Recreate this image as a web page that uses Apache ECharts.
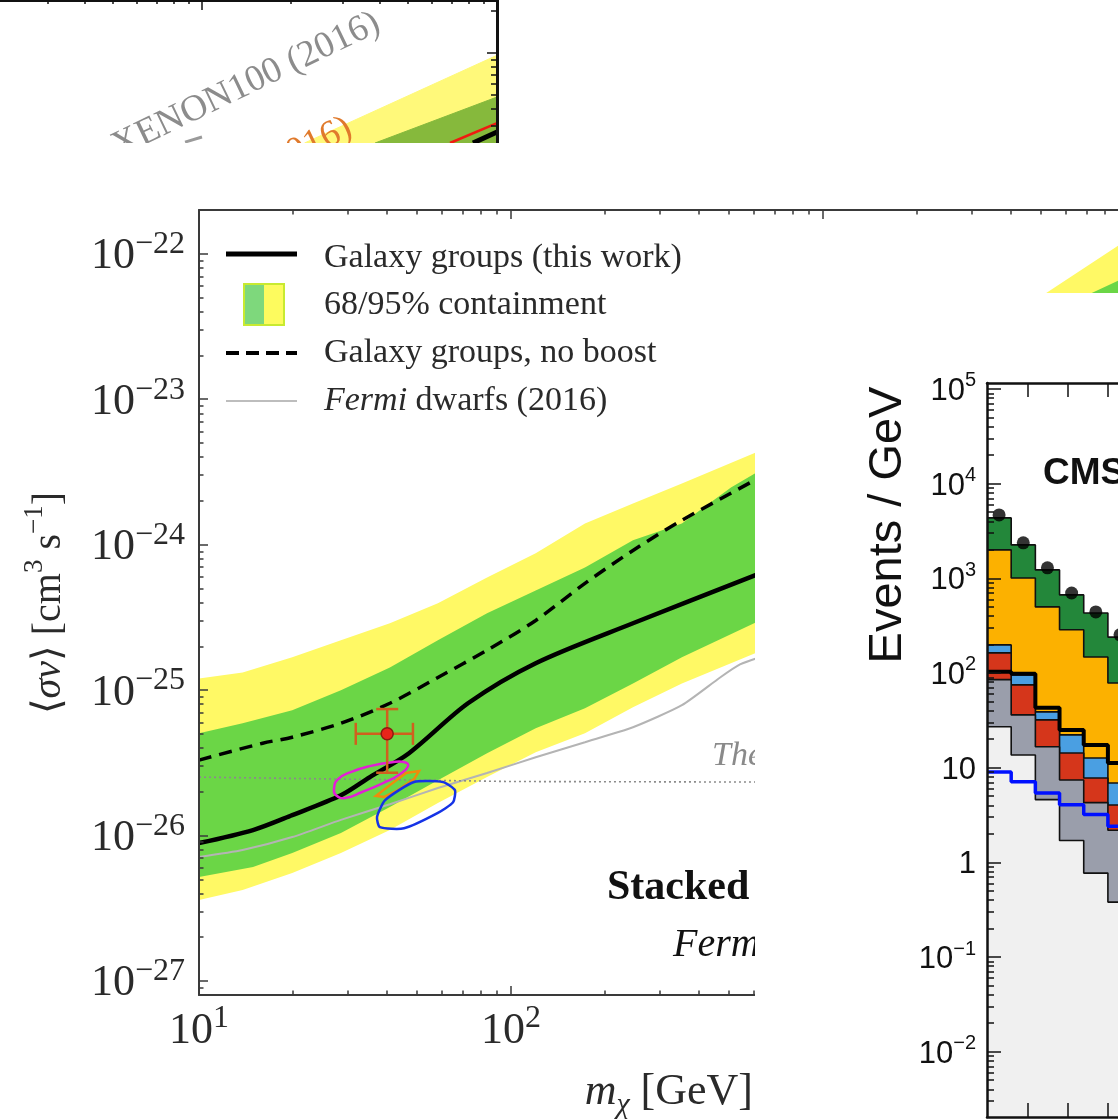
<!DOCTYPE html>
<html><head><meta charset="utf-8">
<script src="https://cdn.jsdelivr.net/npm/echarts@6/dist/echarts.min.js"></script>
<style>html,body{margin:0;padding:0;background:#fff}#c{width:1118px;height:1119px}</style>
</head><body><div id="c"></div>
<script>
// ================= DATA =================
// --- Main panel: annihilation cross-section limits vs DM mass ---
const mainXDecades = [1, 2, 3];                 // log10(m / GeV)
const mainXLabelDecades = [1, 2];
const mainYDecades = [-27, -26, -25, -24, -23, -22];
const minorK = [2, 3, 4, 5, 6, 7, 8, 9];

const ggMass = [10, 14.9, 19.9, 28.5, 35.3, 47.1, 72.8, 120, 246, 628];
const ggSigmaV = [8.87e-27, 1.09e-26, 1.38e-26, 1.89e-26, 2.52e-26, 3.68e-26, 8.11e-26, 1.53e-25, 2.88e-25, 6.34e-25];

const nbMass = [10, 16, 19.9, 28.5, 40.9, 58.3, 83.8, 120, 172.6, 246, 353, 628];
const nbSigmaV = [3.30e-26, 4.31e-26, 4.74e-26, 5.91e-26, 8.11e-26, 1.22e-25, 1.88e-25, 3.01e-25, 5.42e-25, 9.12e-25, 1.47e-24, 2.90e-24];

const y95UpMass = [10, 13.8, 19.9, 28.5, 40.9, 58.3, 83.8, 120, 172.6, 246, 353, 628, 5150, 8830];
const y95UpSv = [1.20e-25, 1.32e-25, 1.68e-25, 2.20e-25, 2.88e-25, 3.95e-25, 5.95e-25, 8.71e-25, 1.40e-24, 1.92e-24, 2.63e-24, 4.43e-24, 5.31e-23, 1.135e-22];
const y95LoMass = [10, 13.8, 19.9, 28.5, 40.9, 58.3, 83.8, 120, 172.6, 246, 353, 628, 8830];
const y95LoSv = [3.60e-27, 4.21e-27, 5.52e-27, 7.57e-27, 1.09e-26, 1.67e-26, 2.52e-26, 3.74e-26, 5.05e-26, 7.62e-26, 1.11e-25, 1.85e-25, 2.6e-24];
const g68UpMass = [10, 13.8, 19.9, 28.5, 40.9, 58.3, 83.8, 120, 172.6, 246, 353, 507, 628, 7180, 8830];
const g68UpSv = [5.05e-26, 5.91e-26, 7.26e-26, 9.97e-26, 1.43e-25, 2.20e-25, 3.37e-25, 4.84e-25, 6.97e-25, 1.07e-24, 1.40e-24, 2.47e-24, 3.24e-24, 5.31e-23, 6.53e-23];
const g68LoMass = [10, 14.9, 19.9, 28.5, 40.9, 58.3, 83.8, 120, 172.6, 246, 353, 628, 8830];
const g68LoSv = [5.18e-27, 6.07e-27, 7.57e-27, 1.04e-26, 1.57e-26, 2.40e-26, 3.68e-26, 5.47e-26, 7.50e-26, 1.11e-25, 1.68e-25, 3.01e-25, 5.5e-24];

const fermiMass = [10, 13.8, 19.9, 28.5, 40.9, 58.3, 83.8, 120, 172.6, 246, 353, 468, 542, 628];
const fermiSv = [7.11e-27, 7.94e-27, 9.75e-27, 1.28e-26, 1.64e-26, 2.12e-26, 2.69e-26, 3.45e-26, 4.38e-26, 5.55e-26, 7.87e-26, 1.22e-25, 1.50e-25, 1.68e-25];

const relicMass = [10, 40, 100, 628];
const relicSv = [2.52e-26, 2.42e-26, 2.35e-26, 2.33e-26];

const gceMass = [31.8, 40.1, 48.5];          // low, centre, high
const gceSv = [2.7e-26, 5.0e-26, 7.4e-26];    // low, centre, high

const magentaM = [27.1, 27.9, 30.5, 35.3, 41.6, 45.7, 46.8, 44.1, 38.9, 33.3, 29.4, 27.5];
const magentaSv = [2.12e-26, 2.44e-26, 2.72e-26, 3.00e-26, 3.19e-26, 3.19e-26, 3.00e-26, 2.64e-26, 2.29e-26, 1.99e-26, 1.81e-26, 1.89e-26];
const orangeM = [36.9, 40.9, 46.1, 50.7, 48.9, 43.4, 39.2];
const orangeSv = [1.87e-26, 2.22e-26, 2.69e-26, 2.77e-26, 2.44e-26, 2.05e-26, 1.84e-26];
const blueM = [37.2, 39.5, 48.9, 60.5, 66.1, 65.2, 58.3, 45.4, 38.0];
const blueSv = [1.34e-26, 1.75e-26, 2.33e-26, 2.33e-26, 2.05e-26, 1.69e-26, 1.43e-26, 1.12e-26, 1.14e-26];

// --- CMS panel (events / GeV, per bin) ---
const cmsBinLow = [200, 230, 260, 290, 320, 350];
const cmsBinWidth = 30;
const cmsXTicks = [250, 300, 350, 400, 450, 500, 550, 600, 650, 700, 750];
const cmsYDecades = [-2, -1, 0, 1, 2, 3, 4, 5];
const cmsLightGrey = [27, 13.6, 4.6, 1.7, 0.77, 0.38];
const cmsGrey = [58, 22.5, 12.0, 5.7, 3.5, 1.8];
const cmsRed = [78, 38.7, 15.4, 6.9, 3.5, 1.85];
const cmsBlue = [35, 20.7, 6.8, 7.9, 4.9, 2.85];
const cmsOrange = [1800, 913, 460, 264, 135, 71.6];
const cmsGreen = [2350, 1245, 728, 382, 283, 161];
const cmsData = [4670, 2370, 1290, 700, 442, 253];
const cmsSignalBlack = [103, 98, 43, 25, 17.4, 11.2];
const cmsSignalBlue = [9.0, 7.1, 5.4, 4.05, 3.2, 2.4];

// --- Top-left fragment (direct detection panel) ---
const fragXDecades = [2];
const fragYDecades = [-45];
const fragYellowM = [222.6, 1000];
const fragYellowY = [2.275e-46, 9.64e-46];
const fragGreenM = [385.9, 1000];
const fragGreenY = [2.275e-46, 4.85e-46];
const fragRedM = [692.9, 1000];
const fragRedY = [2.275e-46, 3.16e-46];
const fragBlackM = [829, 1000];
const fragBlackY = [2.275e-46, 2.73e-46];
const fragGreyM = [87.6, 100];
const fragGreyY = [2.31e-46, 2.51e-46];

// ================= HELPERS =================
const lg = Math.log10;
const serif = '"Liberation Serif","DejaVu Serif",serif';
const sans = '"Liberation Sans",Arial,sans-serif';
const pairs = (ms, vs) => ms.map((m, i) => [lg(m), lg(vs[i])]);
const minors = (decs, lo, hi) => decs.flatMap(n => minorK.map(k => n + lg(k))).filter(v => v > lo + 1e-6 && v < hi - 1e-6);
const sup = v => (v < 0 ? '\u2212' + (-v) : '' + v);

const MX = [1, 4], MY = [lg(8e-28), lg(2e-22)];
const CX = [200, 800], CY = [-2.69, 5.063];
const FX = [lg(20.67), 3], FY = [-45.643, -44.621];

const mainRich = {
  b: {fontFamily: serif, fontSize: 44, color: '#2a2a2a', lineHeight: 50, verticalAlign: 'bottom'},
  s: {fontFamily: serif, fontSize: 32, color: '#2a2a2a', lineHeight: 32, verticalAlign: 'top'}
};
const cmsRich = {
  b: {fontFamily: sans, fontSize: 31, color: '#111', lineHeight: 36, verticalAlign: 'bottom'},
  s: {fontFamily: sans, fontSize: 20, color: '#111', lineHeight: 22, verticalAlign: 'top'}
};

function tickAxis(base, vals, len, lineOn, lineW, color, z) {
  return Object.assign({
    type: 'value', splitLine: {show: false}, z: z || 0,
    axisLine: {show: lineOn, onZero: false, lineStyle: {color: color, width: lineW}},
    axisTick: {show: true, inside: true, length: len, customValues: vals, lineStyle: {color: color, width: 1.5}},
    axisLabel: {show: false}
  }, base);
}

function polygonSeries(ms, vs, stroke, smooth, z) {
  return {
    type: 'custom', xAxisIndex: 0, yAxisIndex: 0, z: z, silent: true,
    data: [[lg(ms[0]), lg(vs[0])]],
    renderItem: (p, api) => ({
      type: 'polygon',
      shape: {points: ms.map((m, i) => api.coord([lg(m), lg(vs[i])])), smooth: smooth},
      style: {fill: 'none', stroke: stroke, lineWidth: 2.5}
    })
  };
}
function bandSeries(upM, upV, loM, loV, color, z) {
  return {
    type: 'custom', xAxisIndex: 0, yAxisIndex: 0, z: z, silent: true,
    data: [[lg(upM[0]), lg(upV[0])]],
    renderItem: (p, api) => {
      const pts = upM.map((m, i) => api.coord([lg(m), lg(upV[i])]));
      for (let i = loM.length - 1; i >= 0; i--) pts.push(api.coord([lg(loM[i]), lg(loV[i])]));
      return {type: 'polygon', shape: {points: pts}, style: {fill: color}};
    }
  };
}

// cumulative stack for CMS
const cmsLayers = [
  {vals: cmsLightGrey, color: '#f0f0f0'},
  {vals: cmsGrey, color: '#9a9eab'},
  {vals: cmsRed, color: '#d5361b'},
  {vals: cmsBlue, color: '#4a9fe2'},
  {vals: cmsOrange, color: '#fcb100'},
  {vals: cmsGreen, color: '#23873a'}
];
let cum = cmsBinLow.map(() => 0);
const cmsCum = cmsLayers.map(l => { cum = cum.map((c, i) => c + l.vals[i]); return cum.slice(); });
function stepData(vals) {
  const d = cmsBinLow.map((x, i) => [x, lg(vals[i])]);
  d.push([cmsBinLow[cmsBinLow.length - 1] + cmsBinWidth, lg(vals[vals.length - 1])]);
  return d;
}

// ================= OPTION =================
const chart = echarts.init(document.getElementById('c'), null, {renderer: 'canvas'});

const grids = [
  {left: 199, top: 210, width: 936, height: 785, outerBoundsMode: 'none', containLabel: false},
  {left: 987, top: 383, width: 483.6, height: 734, outerBoundsMode: 'none', containLabel: false},
  {left: 0, top: 0, width: 497, height: 143, outerBoundsMode: 'none', containLabel: false}
];

const xAxes = [
  // main (0..3)
  tickAxis({gridIndex: 0, position: 'bottom', min: MX[0], max: MX[1],
    axisLabel: {show: true, customValues: mainXLabelDecades, margin: 8, formatter: v => '{b|10}{s|' + sup(v) + '}', rich: mainRich}},
    mainXDecades, 9, true, 2, '#3a3a3a', 8),
  tickAxis({gridIndex: 0, position: 'top', min: MX[0], max: MX[1]}, mainXDecades, 9, true, 2, '#3a3a3a', 8),
  tickAxis({gridIndex: 0, position: 'bottom', min: MX[0], max: MX[1]}, minors([1, 2, 3], MX[0], MX[1]), 4.5, false, 2, '#3a3a3a', 8),
  tickAxis({gridIndex: 0, position: 'top', min: MX[0], max: MX[1]}, minors([1, 2, 3], MX[0], MX[1]), 4.5, false, 2, '#3a3a3a', 8),
  // CMS (4,5)
  tickAxis({gridIndex: 1, position: 'bottom', min: CX[0], max: CX[1]}, cmsXTicks, 14, true, 2.5, '#111', 80),
  tickAxis({gridIndex: 1, position: 'top', min: CX[0], max: CX[1]}, cmsXTicks, 14, true, 2.5, '#111', 80),
  // fragment (6,7)
  tickAxis({gridIndex: 2, position: 'top', min: FX[0], max: FX[1]}, fragXDecades, 10, true, 3, '#111', 5),
  tickAxis({gridIndex: 2, position: 'top', min: FX[0], max: FX[1]}, minors([1, 2], FX[0], FX[1]), 4, false, 3, '#111', 5)
];
const yAxes = [
  // main (0,1)
  tickAxis({gridIndex: 0, position: 'left', min: MY[0], max: MY[1],
    axisLabel: {show: true, customValues: mainYDecades, margin: 14, formatter: v => '{b|10}{s|' + sup(v) + '}', rich: mainRich}},
    mainYDecades, 9, true, 2, '#3a3a3a', 8),
  tickAxis({gridIndex: 0, position: 'left', min: MY[0], max: MY[1]}, minors([-28, -27, -26, -25, -24, -23, -22], MY[0], MY[1]), 4.5, false, 2, '#3a3a3a', 8),
  // CMS (2,3)
  tickAxis({gridIndex: 1, position: 'left', min: CY[0], max: CY[1],
    axisLabel: {show: true, customValues: cmsYDecades, margin: 11,
      formatter: v => v === 0 ? '{b|1}' : (v === 1 ? '{b|10}' : '{b|10}{s|' + sup(v) + '}'), rich: cmsRich}},
    cmsYDecades, 14, true, 2.5, '#111', 80),
  tickAxis({gridIndex: 1, position: 'left', min: CY[0], max: CY[1]}, minors([-3, -2, -1, 0, 1, 2, 3, 4, 5], CY[0], CY[1]), 7, false, 2.5, '#111', 80),
  // fragment (4,5)
  tickAxis({gridIndex: 2, position: 'right', min: FY[0], max: FY[1]}, fragYDecades, 10, true, 3, '#111', 5),
  tickAxis({gridIndex: 2, position: 'right', min: FY[0], max: FY[1]}, minors([-46, -45], FY[0], FY[1]), 6, false, 3, '#111', 5)
];

const series = [
  // ---- main ----
  bandSeries(y95UpMass, y95UpSv, y95LoMass, y95LoSv, '#fff965', 2),
  bandSeries(g68UpMass, g68UpSv, g68LoMass, g68LoSv, '#6bd646', 3),
  {type: 'line', xAxisIndex: 0, yAxisIndex: 0, z: 4, data: pairs(fermiMass, fermiSv), symbol: 'none', smooth: 0.2,
    lineStyle: {color: '#b4b4b4', width: 2}, silent: true},
  {type: 'line', xAxisIndex: 0, yAxisIndex: 0, z: 4, data: pairs(relicMass, relicSv), symbol: 'none',
    lineStyle: {color: '#8a8a8a', width: 1.6, type: [2, 3]}, silent: true},
  {type: 'line', xAxisIndex: 0, yAxisIndex: 0, z: 5, data: pairs(nbMass, nbSigmaV), symbol: 'none', smooth: 0.3,
    lineStyle: {color: '#000', width: 3.5, type: [13, 8]}, silent: true},
  {type: 'line', xAxisIndex: 0, yAxisIndex: 0, z: 5, data: pairs(ggMass, ggSigmaV), symbol: 'none', smooth: 0.3,
    lineStyle: {color: '#000', width: 4.5}, silent: true},
  polygonSeries(magentaM, magentaSv, '#e21fd6', 0.5, 6),
  polygonSeries(orangeM, orangeSv, '#ef8c0a', 0, 6),
  polygonSeries(blueM, blueSv, '#1533e6', 0.2, 6),
  {type: 'custom', xAxisIndex: 0, yAxisIndex: 0, z: 7, silent: true,
    data: [[lg(gceMass[1]), lg(gceSv[1])]],
    renderItem: (p, api) => {
      const c = api.coord([lg(gceMass[1]), lg(gceSv[1])]);
      const l = api.coord([lg(gceMass[0]), lg(gceSv[1])]);
      const r = api.coord([lg(gceMass[2]), lg(gceSv[1])]);
      const t = api.coord([lg(gceMass[1]), lg(gceSv[2])]);
      const b = api.coord([lg(gceMass[1]), lg(gceSv[0])]);
      const col = '#d0601e', h = 11, st = {stroke: col, lineWidth: 2.5};
      return {type: 'group', children: [
        {type: 'line', shape: {x1: l[0], y1: l[1], x2: r[0], y2: r[1]}, style: st},
        {type: 'line', shape: {x1: t[0], y1: t[1], x2: b[0], y2: b[1]}, style: st},
        {type: 'line', shape: {x1: l[0], y1: l[1] - h, x2: l[0], y2: l[1] + h}, style: st},
        {type: 'line', shape: {x1: r[0], y1: r[1] - h, x2: r[0], y2: r[1] + h}, style: st},
        {type: 'line', shape: {x1: t[0] - h, y1: t[1], x2: t[0] + h, y2: t[1]}, style: st},
        {type: 'line', shape: {x1: b[0] - h, y1: b[1], x2: b[0] + h, y2: b[1]}, style: st},
        {type: 'circle', shape: {cx: c[0], cy: c[1], r: 6}, style: {fill: '#e8241a', stroke: '#8a1c10', lineWidth: 1.5}}
      ]};
    }},
  // ---- fragment ----
  {type: 'line', xAxisIndex: 6, yAxisIndex: 4, z: 3, data: pairs(fragYellowM, fragYellowY), symbol: 'none',
    lineStyle: {color: '#fff97a', width: 1}, areaStyle: {color: '#fff97a', opacity: 1, origin: 'start'}, silent: true},
  {type: 'line', xAxisIndex: 6, yAxisIndex: 4, z: 3, data: pairs(fragGreenM, fragGreenY), symbol: 'none',
    lineStyle: {color: '#86b93c', width: 1}, areaStyle: {color: '#86b93c', opacity: 1, origin: 'start'}, silent: true},
  {type: 'line', xAxisIndex: 6, yAxisIndex: 4, z: 4, data: pairs(fragRedM, fragRedY), symbol: 'none',
    lineStyle: {color: '#f01a10', width: 2.5}, silent: true},
  {type: 'line', xAxisIndex: 6, yAxisIndex: 4, z: 4, data: pairs(fragBlackM, fragBlackY), symbol: 'none',
    lineStyle: {color: '#000', width: 5}, silent: true},
  {type: 'line', xAxisIndex: 6, yAxisIndex: 4, z: 4, data: pairs(fragGreyM, fragGreyY), symbol: 'none',
    lineStyle: {color: '#9a9a9a', width: 3}, silent: true}
];

// CMS stack (top layer first so lower layers overlay)
for (let i = cmsLayers.length - 1; i >= 0; i--) {
  series.push({type: 'line', xAxisIndex: 4, yAxisIndex: 2, z: 61 + (cmsLayers.length - i), step: 'end', symbol: 'none',
    data: stepData(cmsCum[i]), silent: true,
    lineStyle: {color: '#111', width: 1.6},
    areaStyle: {color: cmsLayers[i].color, opacity: 1, origin: 'start'}});
}
series.push({type: 'line', xAxisIndex: 4, yAxisIndex: 2, z: 70, step: 'end', symbol: 'none', data: stepData(cmsSignalBlack),
  lineStyle: {color: '#000', width: 4}, silent: true});
series.push({type: 'line', xAxisIndex: 4, yAxisIndex: 2, z: 70, step: 'end', symbol: 'none', data: stepData(cmsSignalBlue),
  lineStyle: {color: '#0010ff', width: 3.5}, silent: true});
series.push({type: 'scatter', xAxisIndex: 4, yAxisIndex: 2, z: 72, symbol: 'circle', symbolSize: 13,
  data: cmsBinLow.map((x, i) => [x + cmsBinWidth / 2, lg(cmsData[i])]),
  itemStyle: {color: '#000'}, silent: true});

const txt = (x, y, text, font, fill) => ({type: 'text', x: x, y: y, z: 10, silent: true,
  style: {text: text, font: font, fill: fill, textAlign: 'left', textVerticalAlign: 'middle'}});

const graphic = [
  // fragment labels
  {type: 'text', x: 386, y: 38, rotation: 0.45, z: 10, silent: true,
    style: {text: 'XENON100 (2016)', font: '37px ' + serif, fill: '#8c8c8c', textAlign: 'right', textVerticalAlign: 'bottom'}},
  {type: 'text', x: 358, y: 143, rotation: 0.45, z: 10, silent: true,
    style: {text: '(2016)', font: '37px ' + serif, fill: '#e07a2c', textAlign: 'right', textVerticalAlign: 'bottom'}},
  {type: 'rect', z: 50, silent: true, shape: {x: 0, y: 143, width: 540, height: 65}, style: {fill: '#fff'}},
  // main legend
  {type: 'line', z: 10, silent: true, shape: {x1: 226, y1: 254, x2: 297, y2: 254}, style: {stroke: '#000', lineWidth: 5}},
  {type: 'rect', z: 10, silent: true, shape: {x: 244, y: 284, width: 20, height: 41}, style: {fill: '#7ed87c'}},
  {type: 'rect', z: 10, silent: true, shape: {x: 264, y: 284, width: 20, height: 41}, style: {fill: '#fdfb5e'}},
  {type: 'rect', z: 11, silent: true, shape: {x: 244, y: 284, width: 40, height: 41}, style: {fill: 'none', stroke: '#c8ea30', lineWidth: 2}},
  {type: 'line', z: 10, silent: true, shape: {x1: 226, y1: 353, x2: 297, y2: 353}, style: {stroke: '#000', lineWidth: 4, lineDash: [13, 7]}},
  {type: 'line', z: 10, silent: true, shape: {x1: 226, y1: 401, x2: 297, y2: 401}, style: {stroke: '#bdbdbd', lineWidth: 2}},
  txt(324, 258, 'Galaxy groups (this work)', '34px ' + serif, '#2a2a2a'),
  txt(324, 305, '68/95% containment', '34px ' + serif, '#2a2a2a'),
  txt(324, 353, 'Galaxy groups, no boost', '34px ' + serif, '#2a2a2a'),
  {type: 'text', x: 324, y: 401, z: 10, silent: true, style: {text: '{i|Fermi}{n| dwarfs (2016)}', textVerticalAlign: 'middle',
    rich: {i: {fontFamily: serif, fontStyle: 'italic', fontSize: 34, fill: '#2a2a2a'}, n: {fontFamily: serif, fontSize: 34, fill: '#2a2a2a'}}}},
  // main annotations
  txt(712, 756, 'Thermal relic', 'italic 34px ' + serif, '#8a8a8a'),
  txt(607, 888, 'Stacked groups', 'bold 42px ' + serif, '#111'),
  txt(673, 945, 'Fermi-LAT', 'italic 40px ' + serif, '#111'),
  // axis titles
  {type: 'text', x: 45, y: 603, rotation: Math.PI / 2, z: 10, silent: true,
    style: {text: '{n|\u27E8}{i|\u03C3v}{n|\u27E9 [cm}{s|3}{n| s}{s|\u22121}{n|]}', textAlign: 'center', textVerticalAlign: 'middle',
      rich: {n: {fontFamily: serif, fontSize: 40, fill: '#2a2a2a', lineHeight: 48, verticalAlign: 'bottom'},
             i: {fontFamily: serif, fontStyle: 'italic', fontSize: 40, fill: '#2a2a2a', lineHeight: 48, verticalAlign: 'bottom'},
             s: {fontFamily: serif, fontSize: 27, fill: '#2a2a2a', lineHeight: 28, verticalAlign: 'top'}}}},
  {type: 'text', x: 753, y: 1095, z: 10, silent: true,
    style: {text: '{i|m}{u|\u03C7}{n| [GeV]}', textAlign: 'right', textVerticalAlign: 'middle',
      rich: {i: {fontFamily: serif, fontStyle: 'italic', fontSize: 44, fill: '#2a2a2a', lineHeight: 50, verticalAlign: 'top'},
             u: {fontFamily: serif, fontStyle: 'italic', fontSize: 30, fill: '#2a2a2a', lineHeight: 30, verticalAlign: 'bottom'},
             n: {fontFamily: serif, fontSize: 44, fill: '#2a2a2a', lineHeight: 50, verticalAlign: 'top'}}}},
  // CMS overlay panel
  {type: 'rect', z: 50, silent: true, shape: {x: 755, y: 293, width: 363, height: 826}, style: {fill: '#fff'}},
  {type: 'text', x: 888, y: 525, rotation: Math.PI / 2, z: 60, silent: true,
    style: {text: 'Events / GeV', font: '47px ' + sans, fill: '#111', textAlign: 'center', textVerticalAlign: 'middle'}},
  {type: 'text', x: 1043, y: 474, z: 60, silent: true,
    style: {text: 'CMS', font: 'bold 37px ' + sans, fill: '#111', textAlign: 'left', textVerticalAlign: 'middle'}}
];

chart.setOption({
  animation: false,
  backgroundColor: '#fff',
  grid: grids,
  xAxis: xAxes,
  yAxis: yAxes,
  series: series,
  graphic: graphic
});
</script></body></html>
